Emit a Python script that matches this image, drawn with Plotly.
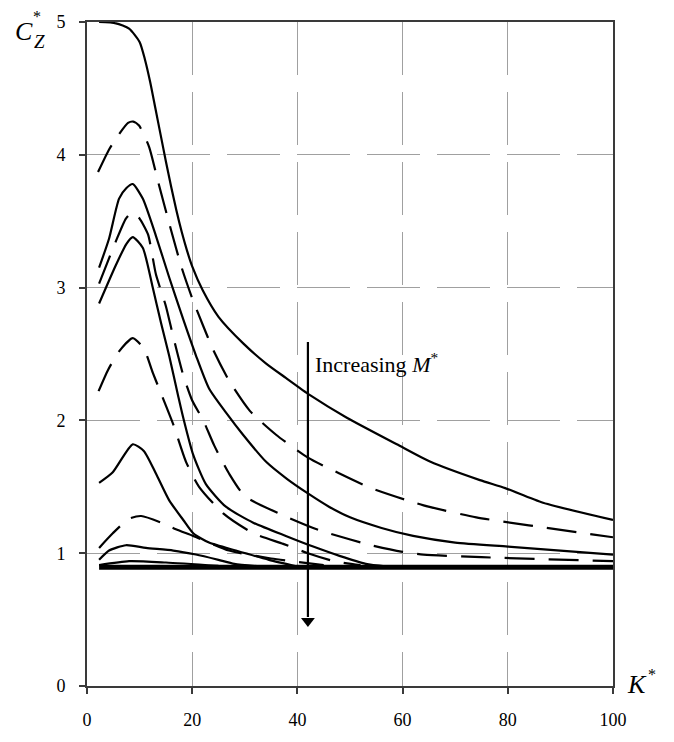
import plotly.graph_objects as go

# ---- data ----
a_x = [2.3, 5.5, 8.0, 10.0, 11.0, 12.0, 13.0, 14.0, 15.0, 16.0, 17.0, 18.0, 19.0, 20.0, 22.0, 25.0, 29.7, 34.0, 37.8, 42.4, 49.4, 58.9, 65.2, 74.7, 79.5, 86.7, 100]
a_y = [5.0, 4.99, 4.95, 4.85, 4.72, 4.55, 4.35, 4.15, 3.95, 3.76, 3.58, 3.42, 3.28, 3.16, 2.98, 2.78, 2.58, 2.43, 2.32, 2.19, 2.02, 1.82, 1.69, 1.55, 1.49, 1.38, 1.25]

b_x = [2.1, 4.2, 6.0, 7.8, 8.8, 9.9, 11.8, 13.5, 16.0, 18.0, 20.0, 22.0, 24.0, 27.0, 31.0, 36.0, 42.0, 48.0, 54.0, 64.0, 74.0, 84.0, 100]
b_y = [3.87, 4.04, 4.15, 4.24, 4.25, 4.22, 4.06, 3.80, 3.43, 3.15, 2.92, 2.72, 2.53, 2.30, 2.07, 1.89, 1.72, 1.60, 1.49, 1.36, 1.27, 1.21, 1.12]

c_x = [2.3, 4.2, 6.1, 7.5, 8.7, 10.6, 13.1, 15.6, 18.3, 20.7, 23.2, 26.4, 29.7, 34.0, 38.0, 42.0, 46.0, 50.0, 56.0, 62.0, 70.0, 80.0, 90.0, 100]
c_y = [3.15, 3.37, 3.67, 3.75, 3.78, 3.67, 3.39, 3.08, 2.76, 2.49, 2.24, 2.06, 1.89, 1.69, 1.56, 1.45, 1.35, 1.27, 1.19, 1.13, 1.08, 1.05, 1.02, 0.99]

d_x = [2.3, 5.5, 7.4, 8.7, 10.0, 11.6, 13.1, 15.0, 16.4, 18.3, 20.0, 22.1, 24.2, 27.0, 30.0, 37.0, 43.0, 46.0, 54.0, 60.0, 64.0, 75.0, 100]
d_y = [3.03, 3.35, 3.52, 3.57, 3.52, 3.40, 3.10, 2.86, 2.63, 2.34, 2.15, 2.00, 1.81, 1.60, 1.43, 1.29, 1.19, 1.15, 1.06, 1.01, 0.99, 0.97, 0.94]

e_x = [2.3, 5.5, 7.5, 8.7, 10.6, 12.5, 14.1, 15.6, 17.3, 18.3, 20.2, 22.6, 26.4, 31.6, 37.8, 43.0, 48.0, 53.0, 57.0]
e_y = [2.88, 3.17, 3.33, 3.38, 3.30, 3.00, 2.73, 2.49, 2.19, 2.02, 1.74, 1.52, 1.35, 1.23, 1.13, 1.05, 0.98, 0.92, 0.90]

f_x = [2.2, 4.0, 6.1, 8.7, 10.8, 12.5, 13.7, 16.4, 18.8, 21.3, 25.9, 31.6, 37.3, 42.0, 47.0, 52.0]
f_y = [2.22, 2.38, 2.52, 2.62, 2.54, 2.36, 2.24, 1.97, 1.69, 1.50, 1.30, 1.15, 1.07, 1.00, 0.94, 0.91]

g_x = [2.3, 4.9, 8.7, 10.8, 13.1, 15.6, 18.3, 20.2, 23.2, 28.3, 34.6, 40.0]
g_y = [1.53, 1.61, 1.82, 1.77, 1.60, 1.40, 1.25, 1.15, 1.08, 1.02, 0.95, 0.90]

h_x = [2.3, 4.9, 8.0, 10.3, 14.1, 16.9, 20.2, 23.2, 27.0, 35.0, 45.0]
h_y = [1.04, 1.15, 1.26, 1.28, 1.23, 1.18, 1.13, 1.08, 1.02, 0.96, 0.91]

i_x = [2.3, 4.2, 7.4, 11.2, 16.4, 20.7, 25.0, 28.0, 33.0]
i_y = [0.95, 1.02, 1.06, 1.04, 1.02, 0.99, 0.95, 0.92, 0.90]

j_x = [2.3, 8.0, 15.0, 25.0]
j_y = [0.91, 0.94, 0.93, 0.905]

base_x = [2.3, 100]
base_y = [0.895, 0.895]

series = [
    (a_x, a_y, "solid"), (b_x, b_y, "dash"), (c_x, c_y, "solid"),
    (d_x, d_y, "dash"), (e_x, e_y, "solid"), (f_x, f_y, "dash"),
    (g_x, g_y, "solid"), (h_x, h_y, "dash"), (i_x, i_y, "solid"),
    (j_x, j_y, "solid"),
]

x_ticks = [0, 20, 40, 60, 80, 100]
y_ticks = [0, 1, 2, 3, 4, 5]

arrow_x = [42.0, 42.0]
arrow_y = [2.59, 0.52]
arrow_head_y = [0.49]

# ---- figure ----
fig = go.Figure()
for xs, ys, style in series:
    fig.add_trace(go.Scatter(
        x=xs, y=ys, mode="lines",
        line=dict(color="black", width=2.2, shape="spline", smoothing=0.6,
                  dash="30px,14px" if style == "dash" else "solid"),
        showlegend=False, hoverinfo="skip"))
fig.add_trace(go.Scatter(x=base_x, y=base_y, mode="lines",
                         line=dict(color="black", width=5),
                         showlegend=False, hoverinfo="skip"))

# arrow (line + triangular head)
fig.add_trace(go.Scatter(x=arrow_x, y=arrow_y, mode="lines",
                         line=dict(color="black", width=2.2),
                         showlegend=False, hoverinfo="skip"))
fig.add_trace(go.Scatter(x=arrow_x[:1], y=arrow_head_y, mode="markers",
                         marker=dict(symbol="triangle-down", size=12, color="black"),
                         showlegend=False, hoverinfo="skip"))

serif = "Liberation Serif, Times New Roman, serif"
grid = dict(showgrid=True, gridcolor="#a0a0a0", gridwidth=1.2, griddash="53px,17px",
            showline=True, linecolor="#3a3a3a", linewidth=2, mirror=True,
            ticks="outside", ticklen=6, tickcolor="#3a3a3a", tickwidth=1.5,
            zeroline=False, tickfont=dict(family=serif, size=18, color="black"))

fig.update_layout(
    width=674, height=742,
    margin=dict(l=87, r=61, t=20, b=46),
    plot_bgcolor="white", paper_bgcolor="white",
    xaxis=dict(range=[0, 100], tickvals=x_ticks, ticklabelstandoff=10, **grid),
    yaxis=dict(range=[0, 5], tickvals=y_ticks, ticklabelstandoff=10, **grid),
)

fig.add_annotation(x=42.9, y=2.43, xref="x", yref="y",
                   xanchor="left", yanchor="middle", showarrow=False,
                   text="Increasing <i>M</i><sup>*</sup>",
                   font=dict(family=serif, size=22, color="black"))

# axis titles
def px2paper(px, py):
    return (px - 87) / 526.0, (696 - py) / 676.0

for txt, (px, py), size in [("<i>C</i>", (24, 30), 26), ("<i>Z</i>", (39, 40), 19),
                            ("*", (37, 14), 16), ("<i>K</i>", (637, 694), 26),
                            ("*", (652, 684), 16)]:
    xp, yp = px2paper(px, py)
    fig.add_annotation(x=xp, y=yp, xref="paper", yref="paper", showarrow=False,
                       xanchor="center", yanchor="middle", text=txt,
                       font=dict(family=serif, size=size, color="black"))

fig.write_html("out.html")
